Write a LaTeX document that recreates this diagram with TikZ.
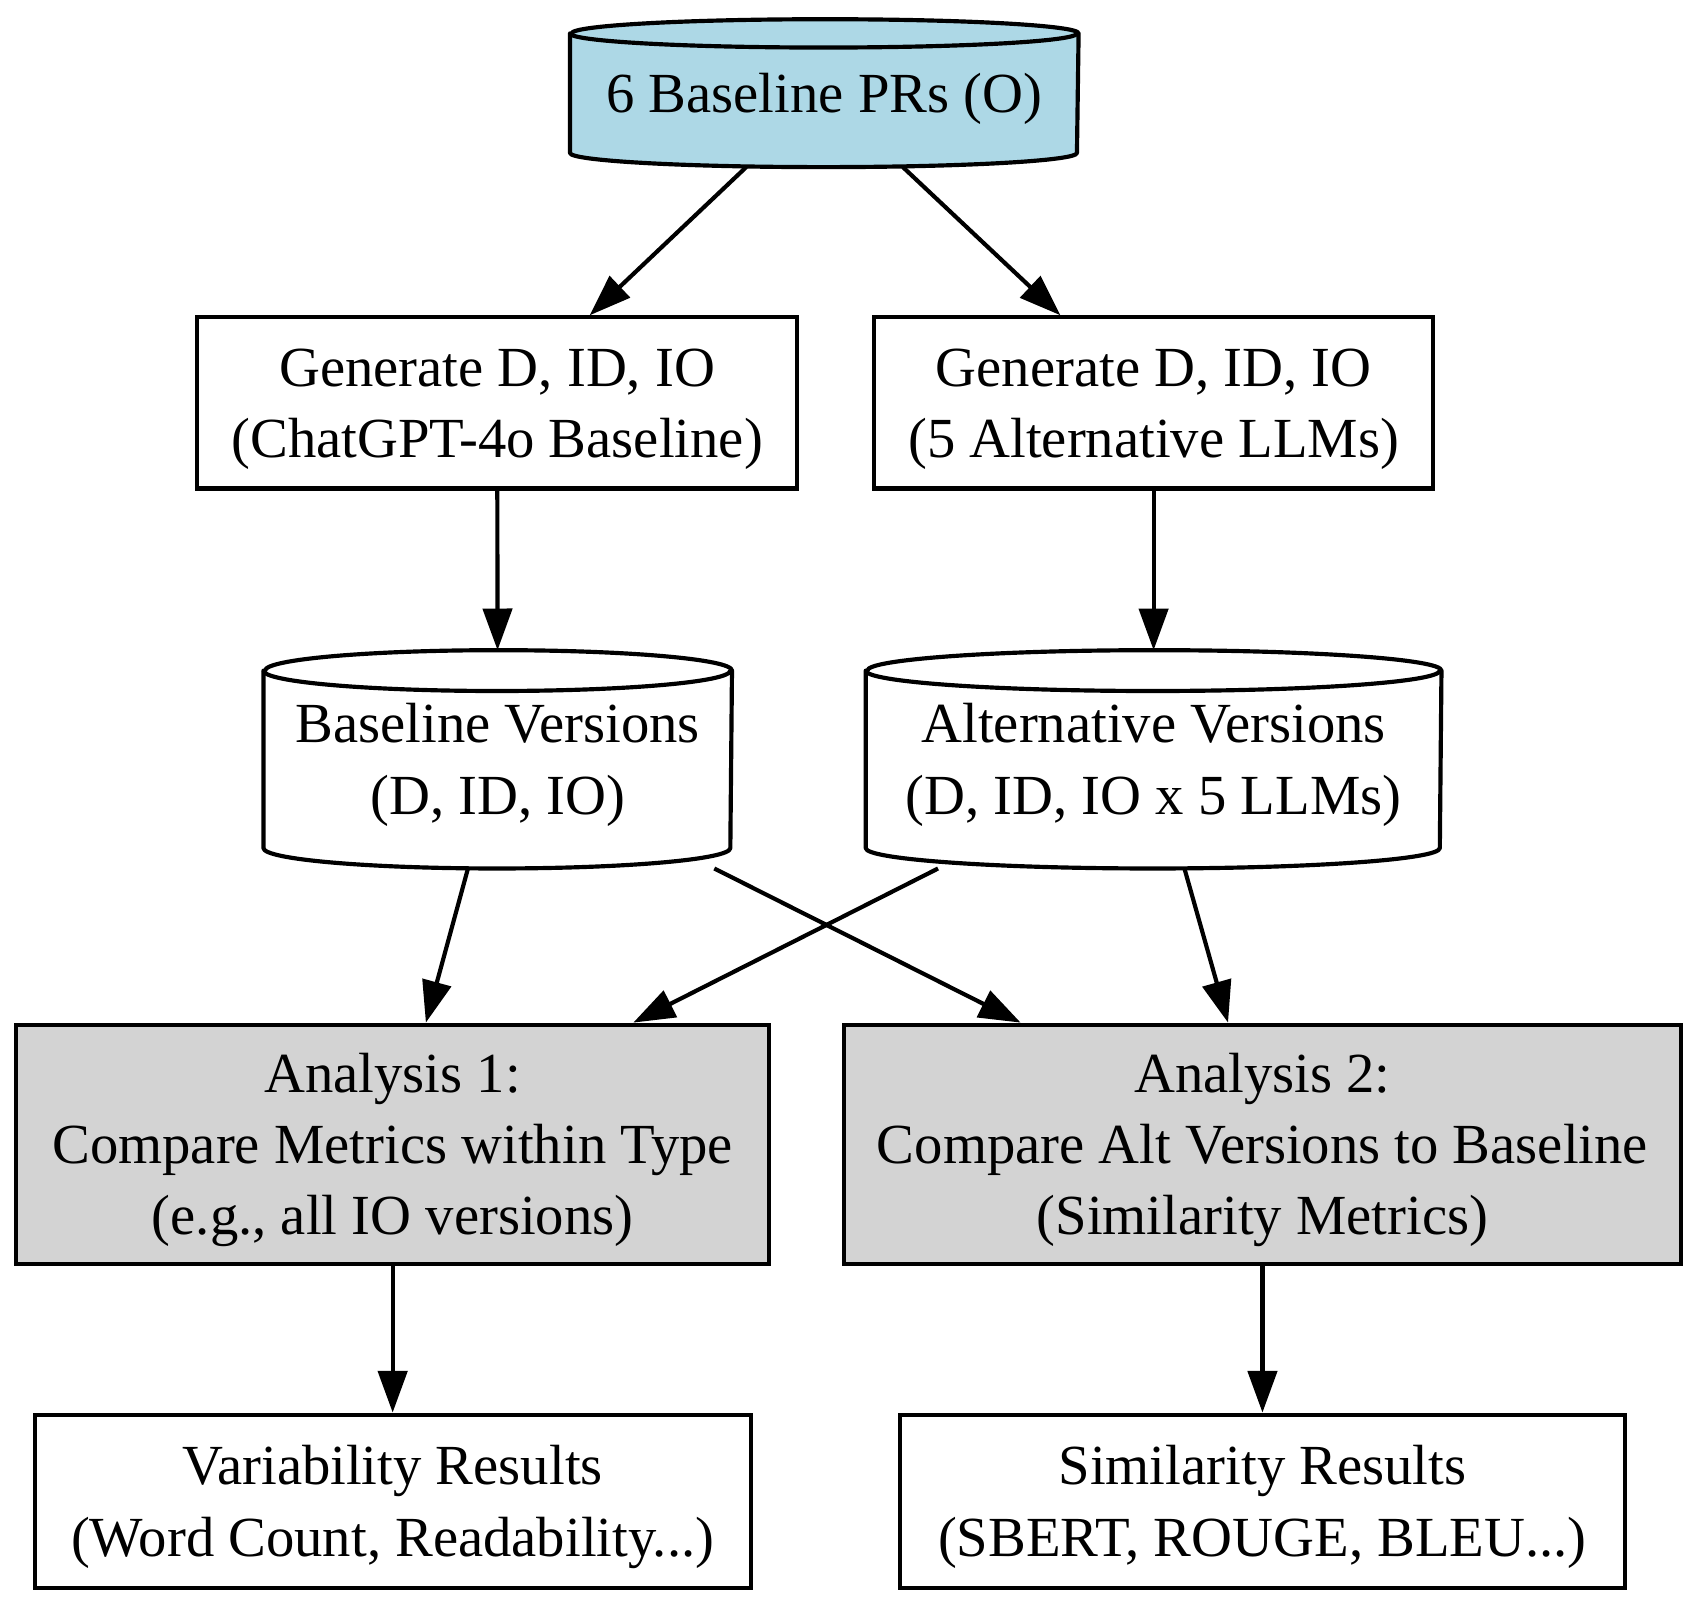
\documentclass[tikz,border=0pt]{standalone}
\usepackage{fontspec}
\setmainfont{Liberation Serif}
\usetikzlibrary{arrows.meta,backgrounds}
\definecolor{dbblue}{HTML}{ADD8E6}
\definecolor{angray}{HTML}{D3D3D3}
\newcommand\dbcyl[4]{% name, fill, rx, ry
  \path[draw=black, fill=#2, line width=1pt, line join=round]
    ([yshift=-#4]#1.north west) -- ([yshift=#4]#1.south west)
    arc[start angle=180, end angle=360, x radius=#3, y radius=#4]
    -- ([yshift=-#4]#1.north east)
    arc[start angle=0, end angle=180, x radius=#3, y radius=#4] -- cycle;
  \draw[line width=1pt] ([yshift=-#4]#1.north west)
    arc[start angle=180, end angle=360, x radius=#3, y radius=#4];
}
\newcommand\ntxt[1]{\raisebox{-1.2pt}[\height][\depth]{\begin{tabular}{@{}c@{}}#1\end{tabular}}}
\tikzset{
  lbl/.style={align=center, inner sep=0pt, font=\fontsize{13.6pt}{17.1pt}\selectfont},
  box/.style={lbl, draw=black, line width=1pt, fill=white},
  anbox/.style={box, fill=angray},
  dbnode/.style={lbl, draw=none},
  edge/.style={line width=1pt, -{Triangle[length=10pt,width=7pt]}}
}
\begin{document}
\begin{tikzpicture}[x=0.26pt, y=-0.26pt]
\useasboundingbox (0,0) rectangle (1563,1476);

\node[dbnode, minimum width={468*0.26pt}, minimum height={135*0.26pt}] (top) at (761,86) {\ntxt{6 Baseline PRs (O)}};
\node[box, minimum width={554*0.26pt}, minimum height={158*0.26pt}] (gen1) at (459,372) {\ntxt{Generate D, ID, IO\\(ChatGPT-4o Baseline)}};
\node[box, minimum width={516*0.26pt}, minimum height={158*0.26pt}] (gen2) at (1065,372) {\ntxt{Generate D, ID, IO\\(5 Alternative LLMs)}};
\node[dbnode, minimum width={431*0.26pt}, minimum height={200*0.26pt}] (basev) at (459.5,701) {\ntxt{Baseline Versions\\(D, ID, IO)}};
\node[dbnode, minimum width={530*0.26pt}, minimum height={200*0.26pt}] (altv) at (1065,701) {\ntxt{Alternative Versions\\(D, ID, IO x 5 LLMs)}};
\node[anbox, minimum width={695*0.26pt}, minimum height={221*0.26pt}] (an1) at (362.5,1056.5) {\ntxt{Analysis 1:\\Compare Metrics within Type\\(e.g., all IO versions)}};
\node[anbox, minimum width={773*0.26pt}, minimum height={221*0.26pt}] (an2) at (1165.5,1056.5) {\ntxt{Analysis 2:\\Compare Alt Versions to Baseline\\(Similarity Metrics)}};
\node[box, minimum width={661*0.26pt}, minimum height={160*0.26pt}] (var) at (362.5,1386) {\ntxt{Variability Results\\(Word Count, Readability...)}};
\node[box, minimum width={669*0.26pt}, minimum height={160*0.26pt}] (sim) at (1165.5,1386) {\ntxt{Similarity Results\\(SBERT, ROUGE, BLEU...)}};

\begin{pgfonlayer}{background}
  \fill[white] (0,0) rectangle (1563,1476);
  \dbcyl{top}{dbblue}{60.84pt}{3.4pt}
  \dbcyl{basev}{white}{56.03pt}{4.9pt}
  \dbcyl{altv}{white}{68.9pt}{4.9pt}
\end{pgfonlayer}

\draw[edge] (top) -- (gen1);
\draw[edge] (top) -- (gen2);
\draw[edge] (gen1) -- (basev);
\draw[edge] (gen2) -- (altv);
\draw[edge] (basev) -- (an1);
\draw[edge] (basev) -- (an2);
\draw[edge] (altv) -- (an1);
\draw[edge] (altv) -- (an2);
\draw[edge] (an1) -- (var);
\draw[edge] (an2) -- (sim);
\end{tikzpicture}
\end{document}
